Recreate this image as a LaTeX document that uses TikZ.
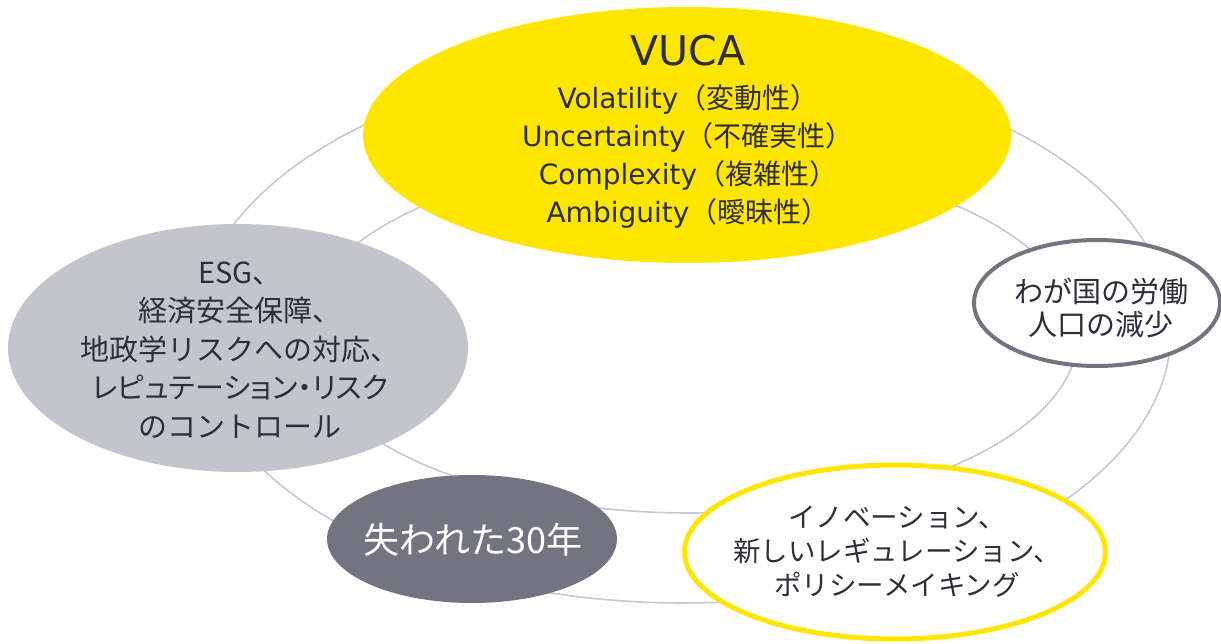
\documentclass[tikz,border=0pt]{standalone}
\usepackage{fontspec}
\setmainfont{Noto Sans CJK JP}
\newfontfamily\lat{DejaVu Sans}
\newfontfamily\jpprop[RawFeature=+palt]{Noto Sans CJK JP}
\usetikzlibrary{shapes.geometric}
\definecolor{eyyellow}{HTML}{FFE600}
\definecolor{eygray}{HTML}{C4C4CD}
\definecolor{eydark}{HTML}{747480}
\definecolor{eytext}{HTML}{2E2E38}
\definecolor{ringgray}{HTML}{C8C8D0}
\begin{document}
\begin{tikzpicture}[x=1pt,y=-1pt,
  ring/.style={draw=ringgray, line width=1.6pt},
  blob/.style={ellipse, inner sep=0pt},
  txt/.style={align=center, text=eytext, inner sep=0pt}]
\useasboundingbox (0,0) rectangle (1221,644);
% background rings
\draw[ring] (683,331) ellipse [x radius=488pt, y radius=272pt];
\draw[ring] (690,335) ellipse [x radius=388pt, y radius=178pt];
% nodes
\node[blob, fill=eyyellow, minimum width=648pt, minimum height=256pt] (vuca) at (687,135) {};
\node[blob, fill=eygray, minimum width=460pt, minimum height=248pt] (esg) at (238,348) {};
\node[blob, fill=white, draw=eydark, line width=4pt, minimum width=246pt, minimum height=126pt] (labor) at (1097,303) {};
\node[blob, fill=eydark, minimum width=290pt, minimum height=128pt] (lost) at (472,539) {};
\node[blob, fill=white, draw=eyyellow, line width=5pt, minimum width=421pt, minimum height=174pt] (innov) at (895,552) {};
% texts
\node[txt, font=\fontsize{28}{38}\selectfont] (vucat) at (688,132)
  {{\lat\fontsize{41}{38}\selectfont VUCA}\\[5pt]
   {\lat Volatility}（変動性）\\
   {\lat Uncertainty}（不確実性）\\
   {\lat Complexity}（複雑性）\\
   {\lat Ambiguity}（曖昧性）};
\node[txt, font=\fontsize{29}{38.5}\selectfont] (esgt) at (240,350)
  {ESG、\\経済安全保障、\\地政学リスクへの対応、\\{\jpprop レピュテーション・リスク}\\のコントロール};
\node[txt, font=\fontsize{29}{33}\selectfont] (labort) at (1101,308)
  {わが国の労働\\人口の減少};
\node[txt, text=white, font=\fontsize{36}{40}\selectfont] (lostt) at (473,540)
  {失われた30年};
\node[txt, font=\fontsize{27.5}{34}\selectfont] (innovt) at (897,552)
  {イノベーション、\\新しいレギュレーション、\\ポリシーメイキング};
\end{tikzpicture}
\end{document}
